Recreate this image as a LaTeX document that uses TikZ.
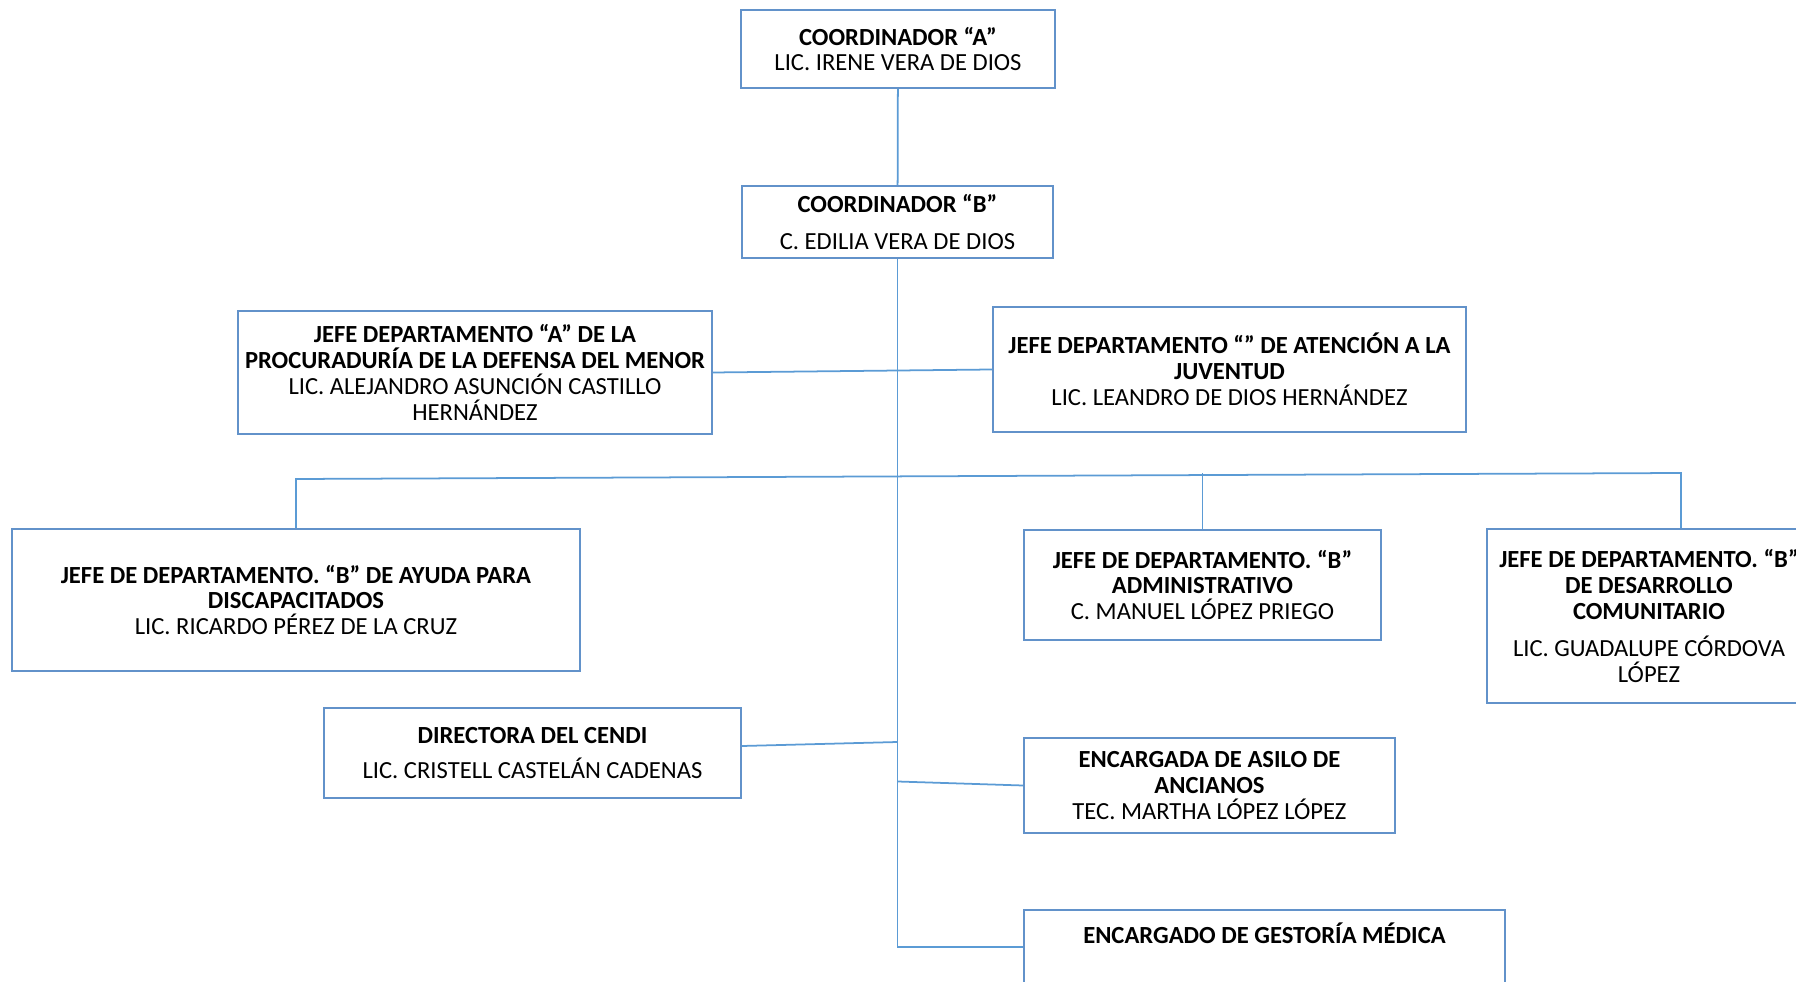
\documentclass[tikz,border=0pt]{standalone}
\usepackage{fontspec}
\setmainfont{Carlito}
\definecolor{linkblue}{RGB}{91,155,213}
\definecolor{boxblue}{RGB}{98,146,202}
\begin{document}
\begin{tikzpicture}[x=0.02cm,y=-0.02cm,draw=linkblue,line width=1pt]
	\def \attic{49}
	\def \rowtwo{222}
	\def \jefeht{371}
	\def \bus{600}
	\def \lowht{753}

	\tikzstyle{box}=[rectangle,draw=boxblue,line width=1.4pt,fill=white,align=center,inner sep=1pt,font=\fontsize{14}{14.75}\selectfont]
	\useasboundingbox (0,0) rectangle (1796,982);

	% coordinators
	\node[box,minimum width=6.28cm,minimum height=1.56cm] (coA) at (898,\attic) {\textbf{COORDINADOR “A”}\\LIC. IRENE VERA DE DIOS};
	\node[box,minimum width=6.22cm,minimum height=1.44cm] (coB) at (897.5,\rowtwo) {\textbf{COORDINADOR “B”}\\[6pt]C. EDILIA VERA DE DIOS};

	% jefes
	\node[box,minimum width=9.48cm,minimum height=2.46cm] (jefeA) at (475,372.5) {\textbf{JEFE DEPARTAMENTO “A” DE LA}\\\textbf{PROCURADURÍA DE LA DEFENSA DEL MENOR}\\LIC. ALEJANDRO ASUNCIÓN CASTILLO\\HERNÁNDEZ};
	\node[box,minimum width=9.46cm,minimum height=2.5cm] (juv) at (1229.5,369.5) {\textbf{JEFE DEPARTAMENTO “” DE ATENCIÓN A LA}\\\textbf{JUVENTUD}\\LIC. LEANDRO DE DIOS HERNÁNDEZ};

	\node[box,minimum width=11.36cm,minimum height=2.84cm] (disc) at (296,\bus) {\textbf{JEFE DE DEPARTAMENTO. “B” DE AYUDA PARA}\\\textbf{DISCAPACITADOS}\\LIC. RICARDO PÉREZ DE LA CRUZ};
	\node[box,minimum width=7.14cm,minimum height=2.2cm] (adm) at (1202.5,585) {\textbf{JEFE DE DEPARTAMENTO. “B”}\\\textbf{ADMINISTRATIVO}\\C. MANUEL LÓPEZ PRIEGO};
	\node[box,minimum width=6.48cm,minimum height=3.48cm] (desa) at (1649,616) {\textbf{JEFE DE DEPARTAMENTO. “B”}\\\textbf{DE DESARROLLO}\\\textbf{COMUNITARIO}\\[6pt]LIC. GUADALUPE CÓRDOVA\\LÓPEZ};

	% lower units
	\node[box,minimum width=8.34cm,minimum height=1.8cm] (cendi) at (532.5,\lowht) {\textbf{DIRECTORA DEL CENDI}\\[5.5pt]LIC. CRISTELL CASTELÁN CADENAS};
	\node[box,minimum width=7.42cm,minimum height=1.9cm] (asilo) at (1209.5,785.5) {\textbf{ENCARGADA DE ASILO DE}\\\textbf{ANCIANOS}\\TEC. MARTHA LÓPEZ LÓPEZ};
	\node[box,anchor=north,minimum width=9.62cm,minimum height=2.2cm,text depth=1.3cm,inner sep=5pt] (gest) at (1264.5,909) {\textbf{ENCARGADO DE GESTORÍA MÉDICA}};

	\coordinate (busL) at (296,479);
	\coordinate (busR) at (1681,473);

	\draw (coA) -- (coB);
	\draw (coB.south) |- ([yshift=-0.76cm]gest.north west);
	\draw (jefeA.east) -- (juv.west);
	\draw (disc.north) -- (busL) -- (busR) -- (busR |- desa.north);
	\draw (adm.north) -- (adm.north |- busR);
	\draw ([yshift=0.14cm]cendi.east) -- ([yshift=0.22cm]cendi.east -| coB);
	\draw (asilo.west) -- ([yshift=0.08cm]asilo.west -| coB);
\end{tikzpicture}
\end{document}
